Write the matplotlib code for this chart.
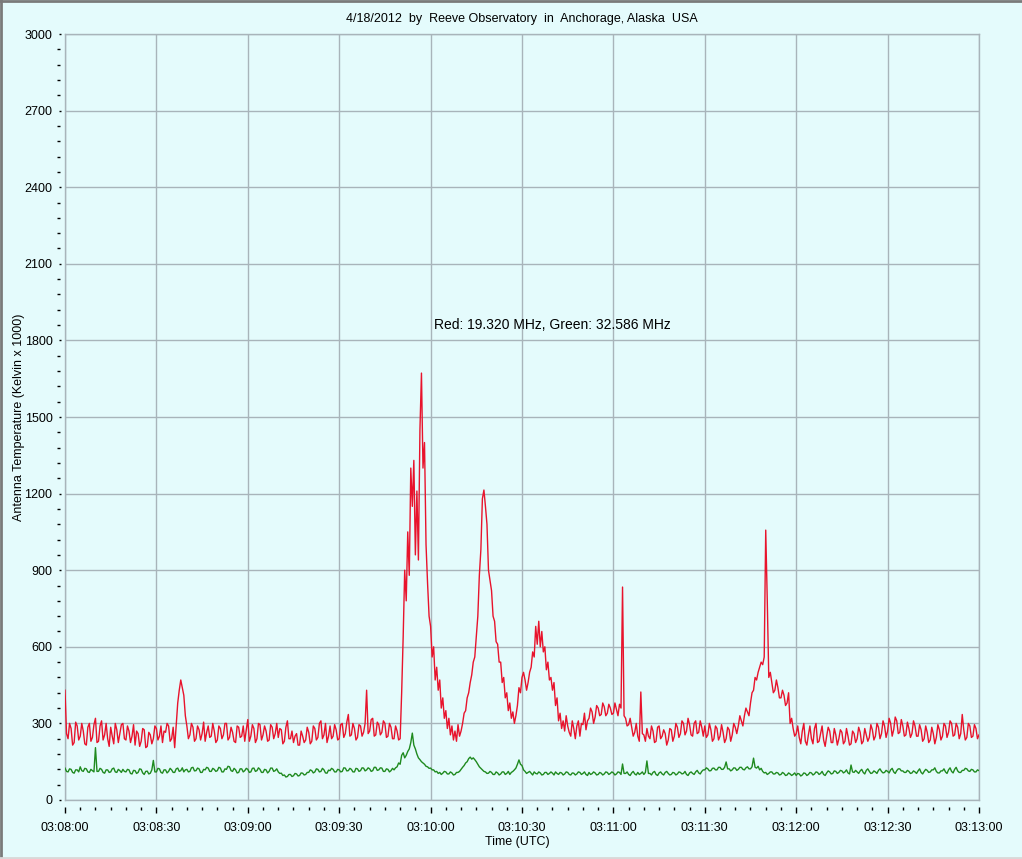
import matplotlib
matplotlib.use("Agg")
import matplotlib.pyplot as plt
from datetime import datetime, timedelta
from matplotlib.lines import Line2D

# ---------------- data (half-second samples, 03:08:00 .. 03:13:00 UTC) ----------------
start_time = datetime(2012, 4, 18, 3, 8, 0)
sample_step_s = 0.5

red_values = [
    430, 260, 240, 300, 280, 215, 225, 305, 290, 235, 250, 300, 270, 220, 215, 285, 300, 230, 245, 295,
    320, 225, 230, 290, 310, 235, 255, 300, 240, 210, 285, 250, 220, 300, 275, 225, 260, 295, 300, 240,
    235, 290, 270, 225, 250, 295, 215, 270, 260, 210, 230, 280, 275, 205, 210, 265, 255, 220, 240, 290,
    280, 235, 250, 290, 225, 270, 265, 300, 290, 230, 240, 285, 205, 290, 380, 430, 470, 440, 410, 330,
    290, 240, 255, 300, 285, 230, 240, 290, 275, 235, 260, 305, 230, 265, 290, 245, 250, 300, 270, 225,
    235, 290, 280, 240, 255, 300, 300, 235, 245, 285, 265, 230, 225, 290, 285, 245, 250, 290, 230, 275,
    315, 230, 250, 295, 280, 225, 240, 300, 295, 235, 255, 290, 270, 230, 235, 295, 285, 240, 260, 300,
    245, 280, 275, 220, 230, 285, 310, 240, 240, 270, 225, 250, 260, 215, 215, 270, 250, 225, 235, 285,
    265, 220, 230, 290, 280, 235, 245, 300, 310, 240, 255, 300, 225, 250, 290, 240, 250, 295, 275, 235,
    240, 295, 300, 245, 260, 305, 335, 250, 255, 300, 280, 235, 245, 295, 290, 250, 265, 300, 430, 260,
    270, 315, 320, 250, 255, 305, 295, 255, 265, 310, 300, 245, 250, 300, 285, 240, 240, 290, 270, 235,
    240, 420, 640, 900, 780, 1050, 880, 1300, 1150, 1330, 960, 1210, 940, 1450, 1672, 1300, 1400, 1000, 850, 720,
    680, 560, 600, 470, 520, 430, 470, 360, 400, 320, 350, 280, 320, 255, 290, 235, 270, 230, 295, 250,
    270, 300, 340, 350, 400, 420, 460, 490, 540, 560, 640, 720, 880, 980, 1180, 1214, 1150, 1080, 900, 860,
    820, 720, 700, 620, 610, 540, 540, 460, 480, 400, 420, 350, 380, 320, 345, 300, 330, 370, 440, 420,
    480, 500, 470, 430, 460, 500, 520, 580, 560, 680, 610, 700, 600, 660, 580, 600, 510, 540, 470, 480,
    430, 460, 370, 400, 310, 340, 280, 310, 270, 330, 290, 265, 250, 310, 280, 240, 290, 310, 250, 300,
    295, 340, 275, 310, 320, 360, 345, 300, 325, 370, 360, 330, 335, 380, 365, 330, 340, 375, 360, 335,
    340, 380, 355, 330, 375, 360, 834, 330, 320, 290, 295, 320, 285, 250, 265, 300, 250, 230, 423, 260,
    255, 230, 280, 250, 240, 290, 270, 225, 230, 285, 290, 240, 250, 275, 260, 215, 235, 280, 275, 230,
    250, 300, 285, 245, 260, 310, 300, 255, 270, 320, 295, 255, 250, 300, 310, 260, 265, 310, 285, 250,
    290, 245, 255, 300, 275, 230, 240, 290, 280, 235, 250, 295, 265, 225, 240, 285, 275, 230, 255, 300,
    285, 260, 290, 330, 310, 290, 330, 360, 345, 330, 380, 420, 430, 480, 470, 500, 520, 540, 530, 560,
    1057, 783, 480, 500, 460, 420, 430, 470, 440, 400, 400, 430, 410, 370, 380, 420, 300, 320, 280, 250,
    260, 290, 245, 220, 270, 300, 230, 215, 255, 290, 240, 220, 280, 300, 225, 230, 260, 290, 235, 210,
    250, 285, 270, 225, 225, 280, 255, 215, 240, 275, 265, 220, 230, 280, 250, 215, 220, 270, 260, 225,
    240, 285, 265, 220, 230, 280, 255, 230, 245, 295, 275, 235, 250, 300, 285, 240, 260, 310, 290, 245,
    270, 320, 300, 250, 275, 325, 310, 260, 265, 315, 290, 250, 255, 305, 280, 245, 260, 310, 290, 250,
    250, 295, 275, 230, 240, 290, 265, 225, 235, 285, 260, 220, 245, 295, 275, 235, 250, 300, 290, 245,
    265, 310, 300, 250, 255, 300, 285, 240, 260, 335, 275, 235, 245, 300, 290, 245, 250, 295, 280, 240,
    255,
]

green_values = [
    125, 112, 110, 122, 120, 108, 105, 118, 118, 110, 130, 115, 112, 124, 122, 110, 108, 120, 115, 110,
    205, 112, 112, 124, 120, 108, 105, 118, 118, 108, 110, 122, 125, 110, 108, 120, 115, 108, 120, 112,
    110, 120, 118, 104, 102, 116, 115, 104, 108, 122, 120, 106, 100, 112, 113, 102, 105, 118, 155, 110,
    110, 124, 122, 108, 105, 118, 118, 106, 112, 124, 118, 108, 108, 122, 125, 112, 115, 126, 110, 118,
    120, 110, 112, 126, 128, 114, 115, 125, 122, 108, 108, 120, 118, 128, 125, 112, 112, 124, 120, 112,
    115, 128, 125, 110, 110, 122, 120, 132, 130, 115, 112, 124, 118, 106, 108, 122, 122, 110, 115, 124,
    120, 108, 110, 124, 125, 112, 115, 126, 120, 108, 108, 120, 118, 106, 112, 125, 125, 112, 115, 122,
    110, 104, 105, 96, 98, 90, 92, 100, 100, 92, 95, 104, 102, 94, 96, 106, 105, 98, 100, 108,
    108, 118, 115, 106, 110, 122, 120, 110, 112, 124, 118, 106, 105, 117, 115, 124, 120, 110, 110, 120,
    118, 110, 112, 126, 125, 114, 115, 124, 120, 110, 110, 124, 122, 112, 115, 126, 125, 114, 118, 126,
    122, 112, 115, 128, 128, 116, 118, 126, 125, 112, 112, 122, 120, 110, 115, 124, 118, 126, 130, 145,
    140, 175, 185, 165, 175, 190, 200, 225, 262, 215, 200, 180, 165, 158, 150, 145, 140, 132, 130, 124,
    125, 118, 118, 110, 112, 104, 108, 100, 105, 112, 110, 102, 102, 110, 106, 98, 100, 108, 108, 112,
    120, 128, 135, 145, 150, 162, 168, 160, 165, 158, 150, 140, 130, 124, 118, 112, 110, 104, 105, 112,
    108, 100, 100, 110, 106, 98, 102, 110, 110, 100, 104, 112, 100, 108, 112, 118, 125, 140, 157, 140,
    135, 118, 112, 104, 108, 112, 105, 98, 110, 104, 102, 110, 106, 98, 100, 108, 108, 100, 104, 110,
    105, 98, 110, 104, 100, 108, 106, 98, 102, 110, 108, 100, 98, 106, 105, 98, 102, 110, 108, 100,
    104, 110, 100, 96, 108, 100, 103, 110, 106, 98, 100, 108, 105, 98, 102, 110, 108, 100, 104, 110,
    106, 98, 102, 110, 108, 100, 141, 104, 104, 110, 100, 96, 106, 112, 102, 98, 108, 100, 104, 110,
    100, 108, 153, 104, 104, 98, 108, 112, 100, 96, 106, 110, 102, 98, 108, 112, 104, 98, 100, 108,
    106, 98, 102, 110, 108, 102, 104, 112, 100, 96, 106, 110, 104, 100, 110, 116, 106, 102, 112, 118,
    118, 126, 122, 114, 115, 124, 125, 118, 118, 128, 128, 120, 120, 128, 149, 122, 122, 114, 118, 126,
    125, 116, 120, 128, 128, 120, 118, 126, 130, 122, 122, 130, 164, 128, 125, 132, 118, 124, 112, 106,
    108, 100, 104, 110, 110, 102, 102, 108, 106, 98, 100, 108, 104, 96, 98, 106, 102, 96, 100, 106,
    96, 104, 102, 94, 98, 106, 104, 96, 100, 108, 106, 98, 102, 110, 108, 100, 104, 112, 100, 96,
    106, 114, 110, 102, 104, 114, 112, 104, 108, 116, 114, 106, 110, 118, 106, 102, 137, 110, 108, 116,
    110, 104, 114, 120, 108, 102, 116, 122, 112, 104, 106, 114, 110, 104, 116, 122, 112, 106, 108, 116,
    112, 106, 118, 124, 110, 104, 115, 122, 122, 114, 114, 108, 108, 116, 112, 104, 106, 114, 110, 104,
    114, 122, 108, 102, 112, 120, 116, 108, 110, 118, 118, 126, 112, 106, 106, 114, 114, 122, 110, 104,
    118, 126, 112, 106, 120, 128, 114, 108, 108, 116, 116, 124, 122, 114, 112, 120, 118, 110, 110, 118,
    115,
]

x_tick_labels = ["03:08:00", "03:08:30", "03:09:00", "03:09:30", "03:10:00", "03:10:30",
                 "03:11:00", "03:11:30", "03:12:00", "03:12:30", "03:13:00"]
y_ticks = [0, 300, 600, 900, 1200, 1500, 1800, 2100, 2400, 2700, 3000]

title_text = "4/18/2012  by  Reeve Observatory  in  Anchorage, Alaska  USA"
annotation_text = "Red: 19.320 MHz, Green: 32.586 MHz"

# ---------------- figure ----------------
plt.rcParams['font.family'] = ['Liberation Sans', 'DejaVu Sans']
BG = '#E4FBFC'
GRID = '#A8B4BA'
W, H = 1022, 859
fig = plt.figure(figsize=(W / 100, H / 100), dpi=100, facecolor=BG)

L, R, T, B = 65, 979, 34, 800
ax = fig.add_axes([L / W, 1 - B / H, (R - L) / W, (B - T) / H], facecolor=BG)

red_times = [start_time + timedelta(seconds=sample_step_s * i) for i in range(len(red_values))]
green_times = [start_time + timedelta(seconds=sample_step_s * i) for i in range(len(green_values))]
ax.plot(red_times, red_values, color='#E8132C', lw=1.0, zorder=3)
ax.plot(green_times, green_values, color='#1F8A1F', lw=1.0, zorder=3)

t0 = start_time
t1 = start_time + timedelta(minutes=5)
ax.set_xlim(t0, t1)
ax.set_ylim(0, 3000)

xt = [start_time + timedelta(seconds=30 * i) for i in range(len(x_tick_labels))]
ax.set_xticks(xt)
ax.set_xticklabels(x_tick_labels)
ax.set_yticks(y_ticks)
ax.set_yticklabels([str(v) for v in y_ticks])
ax.tick_params(axis='both', length=0, labelsize=9, colors='black')
ax.tick_params(axis='y', pad=9)
ax.tick_params(axis='x', pad=16)
ax.grid(True, color=GRID, lw=1.0, zorder=1)
ax.set_axisbelow(True)
for s in ax.spines.values():
    s.set_color(GRID)
    s.set_linewidth(1.0)

# custom detached tick marks
xtrans = ax.get_xaxis_transform()
ytrans = ax.get_yaxis_transform()
hpx = B - T
wpx = R - L
minor_x = [start_time + timedelta(seconds=5 * i) for i in range(61) if i % 6 != 0]
ax.vlines(xt, -13 / hpx, -7 / hpx, transform=xtrans, colors='black', lw=1.0, clip_on=False)
ax.vlines(minor_x, -10 / hpx, -7 / hpx, transform=xtrans, colors='black', lw=1.0, clip_on=False)
minor_y = [v for v in range(0, 3001, 60) if v % 300 != 0]
ax.hlines(y_ticks, -6 / wpx, -4.5 / wpx, transform=ytrans, colors='black', lw=1.0, clip_on=False)
ax.hlines(minor_y, -8 / wpx, -5 / wpx, transform=ytrans, colors='black', lw=1.0, clip_on=False)

# texts
fig.text((L + R) / 2 / W, 1 - 19 / H, title_text, ha='center', va='center', fontsize=9)
fig.text(552 / W, 1 - 325 / H, annotation_text, ha='center', va='center', fontsize=10)
fig.text(517 / W, 1 - 842 / H, "Time (UTC)", ha='center', va='center', fontsize=9)
fig.text(19 / W, 1 - 417 / H, "Antenna Temperature (Kelvin x 1000)", ha='center', va='center',
         rotation=90, fontsize=9)

# window-like frame
fig.add_artist(Line2D([1 / W, 1 / W], [0, 1], transform=fig.transFigure, color='#7A7A7A', lw=2))
fig.add_artist(Line2D([0, 1], [1 - 1 / H, 1 - 1 / H], transform=fig.transFigure, color='#7A7A7A', lw=2))
fig.add_artist(Line2D([0, 1], [1 / H, 1 / H], transform=fig.transFigure, color='#D8D8D8', lw=2))

fig.savefig("out.png", dpi=100, facecolor=BG)
